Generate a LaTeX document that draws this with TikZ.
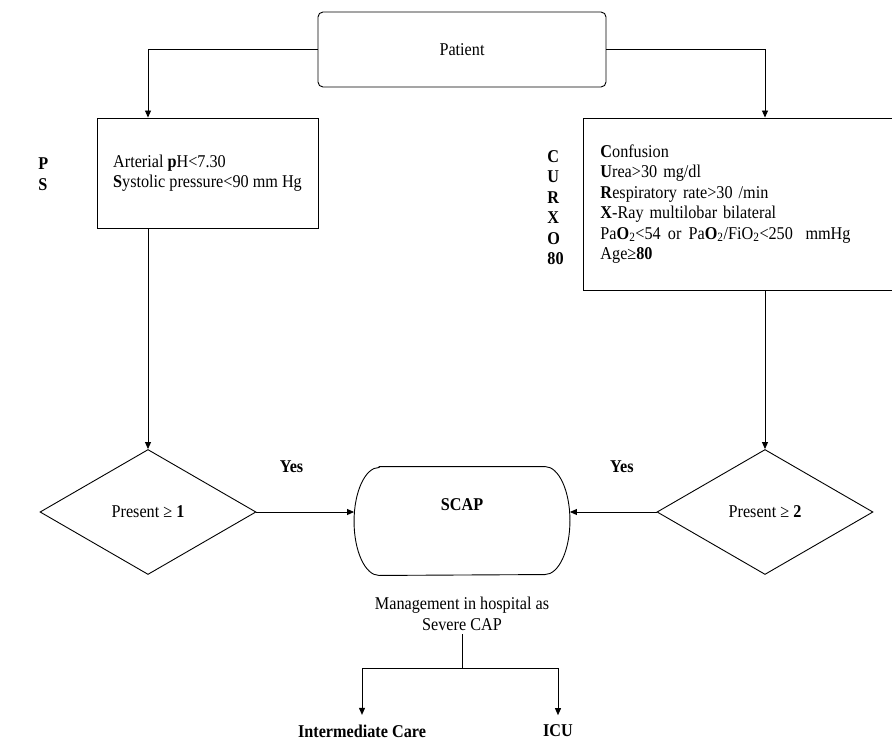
\documentclass[tikz,border=0pt]{standalone}
\usepackage{fontspec}
\setmainfont{Liberation Serif}[FakeStretch=0.9]
\usetikzlibrary{positioning, arrows.meta, shapes.geometric}

\begin{document}
\begin{tikzpicture}[x=1pt, y=1pt, font=\fontsize{18}{20.5}\selectfont, line width=0.9pt]
        \tikzstyle{block} = [rectangle, draw, align=left, inner xsep=16pt]
        \tikzstyle{decision} = [diamond, draw, minimum width=216pt, minimum height=125pt, inner sep=0pt]
        \tikzstyle{arrow} = [->, >={Triangle[length=7pt, width=6pt]}]
        \tikzstyle{letters} = [anchor=west, inner sep=0pt, align=left, font=\fontsize{18}{20.5}\selectfont\bfseries]

        \useasboundingbox (0,0) rectangle (892,-741);
        \clip (0,0) rectangle (892,-741);

        \node [rectangle, draw, rounded corners=5pt, minimum width=288pt, minimum height=75pt] (patient) at (462,-49.5) {Patient};
        \node [block, minimum width=221pt, minimum height=110pt] (psbox) at (207.5,-173) {Arterial \textbf{p}H<7.30\\\textbf{S}ystolic pressure<90 mm Hg};
        \node [letters] (pslbl) at (38,-174) {P\\S};
        \node [block, anchor=west, inner xsep=17pt, text width=290pt, minimum height=172pt] (curxbox) at (583,-204) {\textbf{C}onfusion\\\textbf{U}rea>30 mg/dl\\\textbf{R}espiratory rate>30 /min\\\textbf{X}-Ray multilobar bilateral\\Pa\textbf{O}\textsubscript{2}<54\hspace{0.4em}or\hspace{0.4em}Pa\textbf{O}\textsubscript{2}/FiO\textsubscript{2}<250\hspace{0.7em}mmHg\\Age≥\textbf{80}};
        \node [letters] (curxlbl) at (547,-207.5) {C\\U\\R\\X\\O\\80};

        \node [decision] (ldia) at (148,-512) {Present ≥ \textbf{1}};
        \node [decision] (rdia) at (765,-512) {Present ≥ \textbf{2}};
        \node [minimum width=215pt, minimum height=108pt, text depth=32pt, font=\fontsize{18}{20.5}\selectfont\bfseries] (scap) at (462,-521) {SCAP};
        \draw ([xshift=25pt]scap.north west) -- ([xshift=-25pt]scap.north east)
              arc[start angle=90, end angle=-90, x radius=25pt, y radius=54pt]
              -- ([xshift=25pt]scap.south west)
              arc[start angle=270, end angle=90, x radius=25pt, y radius=54pt] -- cycle;

        \node [align=center] (mgmt) at (462,-614) {Management in hospital as\\Severe CAP};
        \coordinate (split) at (462,-668);
        \node [font=\fontsize{18}{20.5}\selectfont\bfseries] (icare) at (362,-731) {Intermediate Care};
        \node [font=\fontsize{18}{20.5}\selectfont\bfseries] (icu) at (558,-731) {ICU};

        \draw [arrow] (patient.west) -| (ldia |- psbox.north);
        \draw [arrow] (patient.east) -| (rdia |- curxbox.north);
        \draw [arrow] (ldia |- psbox.south) -- (ldia.north);
        \draw [arrow] (rdia |- curxbox.south) -- (rdia.north);
        \draw [arrow] (ldia.east) -- (ldia.east -| scap.west) node [pos=0.36, above=36pt, font=\fontsize{18}{20.5}\selectfont\bfseries] (yesl) {Yes};
        \draw [arrow] (rdia.west) -- (rdia.west -| scap.east) node [pos=0.4, above=36pt, font=\fontsize{18}{20.5}\selectfont\bfseries] (yesr) {Yes};
        \draw (mgmt.south) -- (split);
        \draw [arrow, shorten >=6pt] (split) -| (icare.north);
        \draw [arrow, shorten >=6pt] (split) -| (icu.north);
    \end{tikzpicture}
\end{document}
